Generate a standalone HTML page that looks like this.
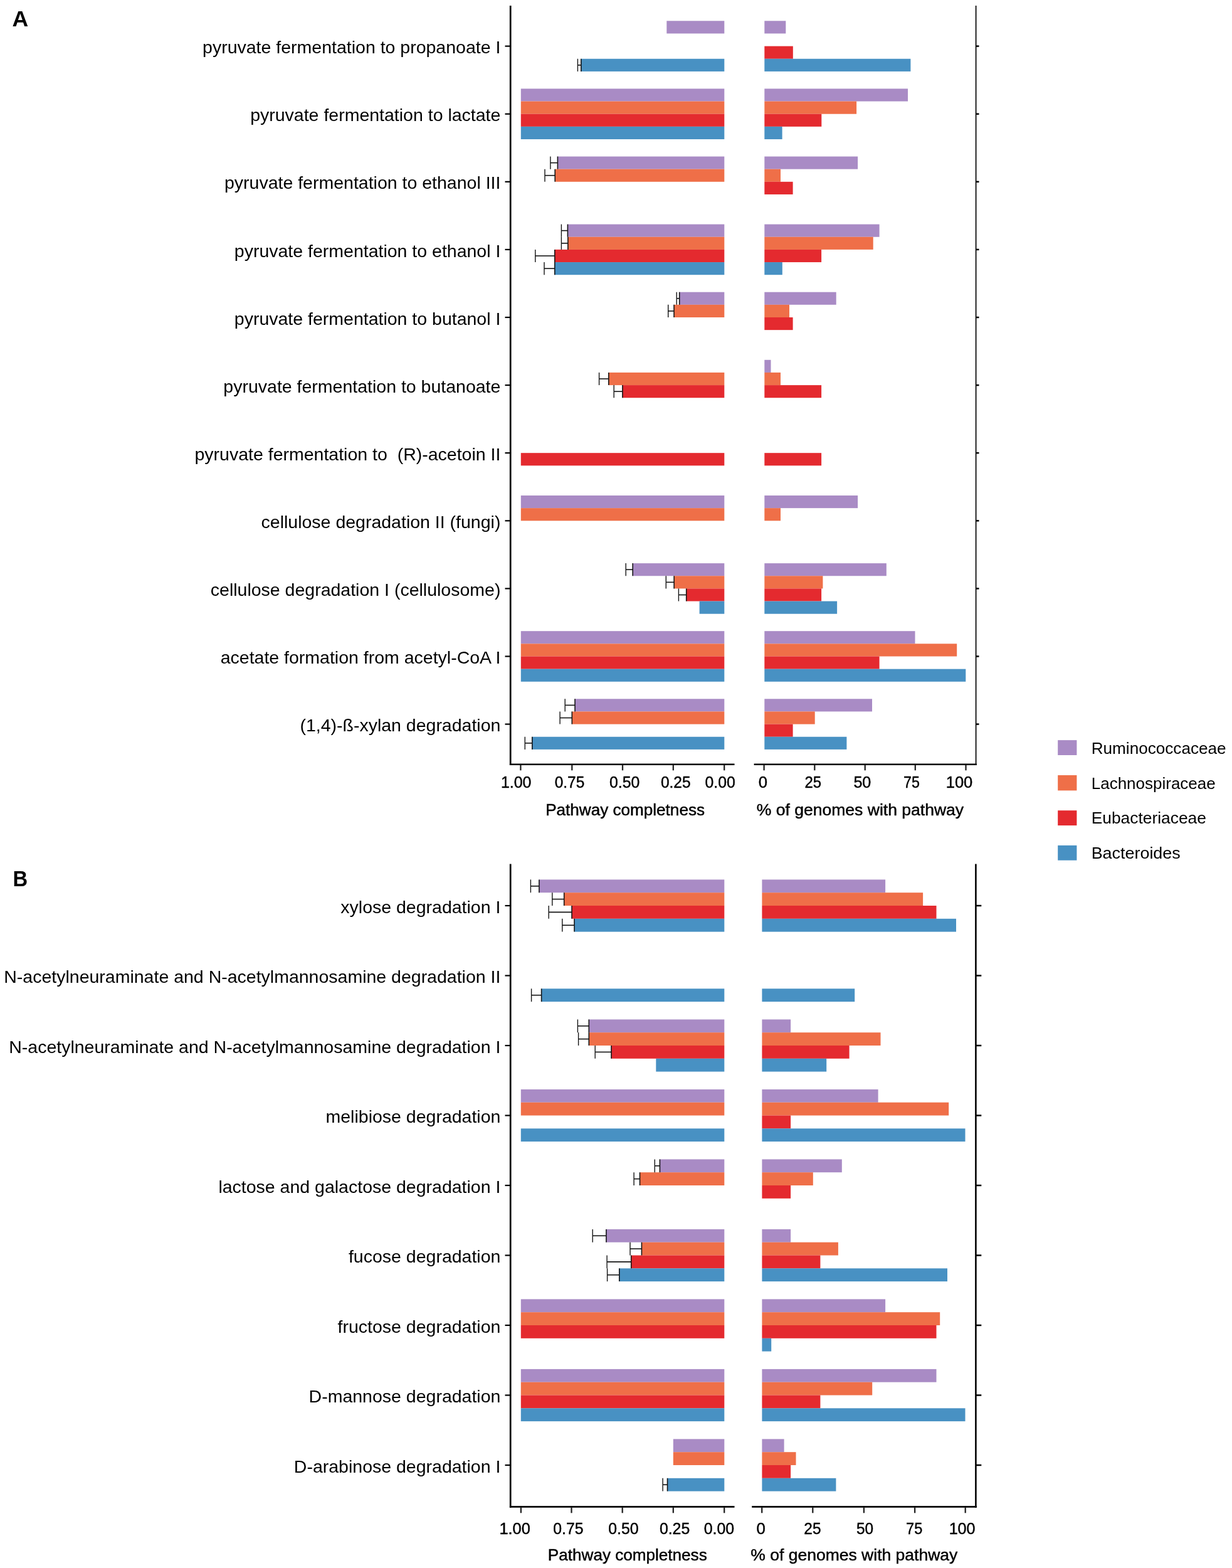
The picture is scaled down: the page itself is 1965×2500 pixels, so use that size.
<!DOCTYPE html>
<html><head><meta charset="utf-8"><title>Pathway completeness figure</title>
<style>html,body{margin:0;padding:0;background:#fff}svg{display:block}text{font-family:'Liberation Sans', Arial, sans-serif;fill:#000}</style>
</head><body>
<svg width="1965" height="2500" viewBox="0 0 1965 2500">
<rect x="0" y="0" width="1965" height="2500" fill="#fff"/>
<rect x="1063.30" y="33.30" width="92.00" height="20.15" fill="#A98BC5"/>
<rect x="1219.30" y="33.30" width="34.00" height="20.15" fill="#A98BC5"/>
<rect x="1219.30" y="73.60" width="45.50" height="20.15" fill="#E42A2F"/>
<rect x="926.80" y="93.75" width="228.50" height="20.15" fill="#4891C3"/>
<rect x="1219.30" y="93.75" width="233.10" height="20.15" fill="#4891C3"/>
<line x1="921.40" y1="103.83" x2="926.80" y2="103.83" stroke="#141414" stroke-width="1.6"/>
<line x1="921.40" y1="93.75" x2="921.40" y2="113.90" stroke="#141414" stroke-width="1.4"/>
<line x1="926.80" y1="93.75" x2="926.80" y2="113.90" stroke="#141414" stroke-width="1.6"/>
<line x1="805.50" y1="73.60" x2="814.00" y2="73.60" stroke="#000" stroke-width="2.2"/>
<line x1="1556.50" y1="73.60" x2="1561.50" y2="73.60" stroke="#000" stroke-width="2.5"/>
<text x="798.40" y="85.20" font-size="28.5" text-anchor="end" font-weight="400">pyruvate fermentation to propanoate I</text>
<rect x="830.80" y="141.40" width="324.50" height="20.15" fill="#A98BC5"/>
<rect x="1219.30" y="141.40" width="228.70" height="20.15" fill="#A98BC5"/>
<rect x="830.80" y="161.55" width="324.50" height="20.15" fill="#EF6F48"/>
<rect x="1219.30" y="161.55" width="146.80" height="20.15" fill="#EF6F48"/>
<rect x="830.80" y="181.70" width="324.50" height="20.15" fill="#E42A2F"/>
<rect x="1219.30" y="181.70" width="91.00" height="20.15" fill="#E42A2F"/>
<rect x="830.80" y="201.85" width="324.50" height="20.15" fill="#4891C3"/>
<rect x="1219.30" y="201.85" width="28.30" height="20.15" fill="#4891C3"/>
<line x1="805.50" y1="181.70" x2="814.00" y2="181.70" stroke="#000" stroke-width="2.2"/>
<line x1="1556.50" y1="181.70" x2="1561.50" y2="181.70" stroke="#000" stroke-width="2.5"/>
<text x="798.40" y="193.30" font-size="28.5" text-anchor="end" font-weight="400">pyruvate fermentation to lactate</text>
<rect x="889.40" y="249.50" width="265.90" height="20.15" fill="#A98BC5"/>
<rect x="1219.30" y="249.50" width="148.80" height="20.15" fill="#A98BC5"/>
<rect x="885.20" y="269.65" width="270.10" height="20.15" fill="#EF6F48"/>
<rect x="1219.30" y="269.65" width="25.70" height="20.15" fill="#EF6F48"/>
<rect x="1219.30" y="289.80" width="45.30" height="20.15" fill="#E42A2F"/>
<line x1="877.90" y1="259.57" x2="889.40" y2="259.57" stroke="#141414" stroke-width="1.6"/>
<line x1="877.90" y1="249.50" x2="877.90" y2="269.65" stroke="#141414" stroke-width="1.4"/>
<line x1="889.40" y1="249.50" x2="889.40" y2="269.65" stroke="#141414" stroke-width="1.6"/>
<line x1="869.00" y1="279.72" x2="885.20" y2="279.72" stroke="#141414" stroke-width="1.6"/>
<line x1="869.00" y1="269.65" x2="869.00" y2="289.80" stroke="#141414" stroke-width="1.4"/>
<line x1="885.20" y1="269.65" x2="885.20" y2="289.80" stroke="#141414" stroke-width="1.6"/>
<line x1="805.50" y1="289.80" x2="814.00" y2="289.80" stroke="#000" stroke-width="2.2"/>
<line x1="1556.50" y1="289.80" x2="1561.50" y2="289.80" stroke="#000" stroke-width="2.5"/>
<text x="798.40" y="301.40" font-size="28.5" text-anchor="end" font-weight="400">pyruvate fermentation to ethanol III</text>
<rect x="905.40" y="357.60" width="249.90" height="20.15" fill="#A98BC5"/>
<rect x="1219.30" y="357.60" width="183.30" height="20.15" fill="#A98BC5"/>
<rect x="905.80" y="377.75" width="249.50" height="20.15" fill="#EF6F48"/>
<rect x="1219.30" y="377.75" width="173.40" height="20.15" fill="#EF6F48"/>
<rect x="884.80" y="397.90" width="270.50" height="20.15" fill="#E42A2F"/>
<rect x="1219.30" y="397.90" width="90.80" height="20.15" fill="#E42A2F"/>
<rect x="884.80" y="418.05" width="270.50" height="20.15" fill="#4891C3"/>
<rect x="1219.30" y="418.05" width="28.50" height="20.15" fill="#4891C3"/>
<line x1="895.40" y1="367.67" x2="905.40" y2="367.67" stroke="#141414" stroke-width="1.6"/>
<line x1="895.40" y1="357.60" x2="895.40" y2="377.75" stroke="#141414" stroke-width="1.4"/>
<line x1="905.40" y1="357.60" x2="905.40" y2="377.75" stroke="#141414" stroke-width="1.6"/>
<line x1="895.40" y1="387.82" x2="905.80" y2="387.82" stroke="#141414" stroke-width="1.6"/>
<line x1="895.40" y1="377.75" x2="895.40" y2="397.90" stroke="#141414" stroke-width="1.4"/>
<line x1="905.80" y1="377.75" x2="905.80" y2="397.90" stroke="#141414" stroke-width="1.6"/>
<line x1="853.80" y1="407.97" x2="884.80" y2="407.97" stroke="#141414" stroke-width="1.6"/>
<line x1="853.80" y1="397.90" x2="853.80" y2="418.05" stroke="#141414" stroke-width="1.4"/>
<line x1="884.80" y1="397.90" x2="884.80" y2="418.05" stroke="#141414" stroke-width="1.6"/>
<line x1="868.00" y1="428.12" x2="884.80" y2="428.12" stroke="#141414" stroke-width="1.6"/>
<line x1="868.00" y1="418.05" x2="868.00" y2="438.20" stroke="#141414" stroke-width="1.4"/>
<line x1="884.80" y1="418.05" x2="884.80" y2="438.20" stroke="#141414" stroke-width="1.6"/>
<line x1="805.50" y1="397.90" x2="814.00" y2="397.90" stroke="#000" stroke-width="2.2"/>
<line x1="1556.50" y1="397.90" x2="1561.50" y2="397.90" stroke="#000" stroke-width="2.5"/>
<text x="798.40" y="409.50" font-size="28.5" text-anchor="end" font-weight="400">pyruvate fermentation to ethanol I</text>
<rect x="1083.70" y="465.70" width="71.60" height="20.15" fill="#A98BC5"/>
<rect x="1219.30" y="465.70" width="114.40" height="20.15" fill="#A98BC5"/>
<rect x="1075.00" y="485.85" width="80.30" height="20.15" fill="#EF6F48"/>
<rect x="1219.30" y="485.85" width="39.70" height="20.15" fill="#EF6F48"/>
<rect x="1219.30" y="506.00" width="45.30" height="20.15" fill="#E42A2F"/>
<line x1="1079.20" y1="475.77" x2="1083.70" y2="475.77" stroke="#141414" stroke-width="1.6"/>
<line x1="1079.20" y1="465.70" x2="1079.20" y2="485.85" stroke="#141414" stroke-width="1.4"/>
<line x1="1083.70" y1="465.70" x2="1083.70" y2="485.85" stroke="#141414" stroke-width="1.6"/>
<line x1="1065.70" y1="495.92" x2="1075.00" y2="495.92" stroke="#141414" stroke-width="1.6"/>
<line x1="1065.70" y1="485.85" x2="1065.70" y2="506.00" stroke="#141414" stroke-width="1.4"/>
<line x1="1075.00" y1="485.85" x2="1075.00" y2="506.00" stroke="#141414" stroke-width="1.6"/>
<line x1="805.50" y1="506.00" x2="814.00" y2="506.00" stroke="#000" stroke-width="2.2"/>
<line x1="1556.50" y1="506.00" x2="1561.50" y2="506.00" stroke="#000" stroke-width="2.5"/>
<text x="798.40" y="517.60" font-size="28.5" text-anchor="end" font-weight="400">pyruvate fermentation to butanol I</text>
<rect x="1219.30" y="573.80" width="10.20" height="20.15" fill="#A98BC5"/>
<rect x="970.80" y="593.95" width="184.50" height="20.15" fill="#EF6F48"/>
<rect x="1219.30" y="593.95" width="25.70" height="20.15" fill="#EF6F48"/>
<rect x="992.90" y="614.10" width="162.40" height="20.15" fill="#E42A2F"/>
<rect x="1219.30" y="614.10" width="90.80" height="20.15" fill="#E42A2F"/>
<line x1="955.60" y1="604.03" x2="970.80" y2="604.03" stroke="#141414" stroke-width="1.6"/>
<line x1="955.60" y1="593.95" x2="955.60" y2="614.10" stroke="#141414" stroke-width="1.4"/>
<line x1="970.80" y1="593.95" x2="970.80" y2="614.10" stroke="#141414" stroke-width="1.6"/>
<line x1="979.20" y1="624.17" x2="992.90" y2="624.17" stroke="#141414" stroke-width="1.6"/>
<line x1="979.20" y1="614.10" x2="979.20" y2="634.25" stroke="#141414" stroke-width="1.4"/>
<line x1="992.90" y1="614.10" x2="992.90" y2="634.25" stroke="#141414" stroke-width="1.6"/>
<line x1="805.50" y1="614.10" x2="814.00" y2="614.10" stroke="#000" stroke-width="2.2"/>
<line x1="1556.50" y1="614.10" x2="1561.50" y2="614.10" stroke="#000" stroke-width="2.5"/>
<text x="798.40" y="625.70" font-size="28.5" text-anchor="end" font-weight="400">pyruvate fermentation to butanoate</text>
<rect x="830.80" y="722.20" width="324.50" height="20.15" fill="#E42A2F"/>
<rect x="1219.30" y="722.20" width="90.80" height="20.15" fill="#E42A2F"/>
<line x1="805.50" y1="722.20" x2="814.00" y2="722.20" stroke="#000" stroke-width="2.2"/>
<line x1="1556.50" y1="722.20" x2="1561.50" y2="722.20" stroke="#000" stroke-width="2.5"/>
<text x="798.40" y="733.80" font-size="28.5" text-anchor="end" font-weight="400">pyruvate fermentation to  (R)-acetoin II</text>
<rect x="830.80" y="790.00" width="324.50" height="20.15" fill="#A98BC5"/>
<rect x="1219.30" y="790.00" width="148.80" height="20.15" fill="#A98BC5"/>
<rect x="830.80" y="810.15" width="324.50" height="20.15" fill="#EF6F48"/>
<rect x="1219.30" y="810.15" width="25.70" height="20.15" fill="#EF6F48"/>
<line x1="805.50" y1="830.30" x2="814.00" y2="830.30" stroke="#000" stroke-width="2.2"/>
<line x1="1556.50" y1="830.30" x2="1561.50" y2="830.30" stroke="#000" stroke-width="2.5"/>
<text x="798.40" y="841.90" font-size="28.5" text-anchor="end" font-weight="400">cellulose degradation II (fungi)</text>
<rect x="1009.20" y="898.10" width="146.10" height="20.15" fill="#A98BC5"/>
<rect x="1219.30" y="898.10" width="194.50" height="20.15" fill="#A98BC5"/>
<rect x="1075.10" y="918.25" width="80.20" height="20.15" fill="#EF6F48"/>
<rect x="1219.30" y="918.25" width="93.10" height="20.15" fill="#EF6F48"/>
<rect x="1094.70" y="938.40" width="60.60" height="20.15" fill="#E42A2F"/>
<rect x="1219.30" y="938.40" width="90.80" height="20.15" fill="#E42A2F"/>
<rect x="1115.60" y="958.55" width="39.70" height="20.15" fill="#4891C3"/>
<rect x="1219.30" y="958.55" width="115.80" height="20.15" fill="#4891C3"/>
<line x1="998.20" y1="908.17" x2="1009.20" y2="908.17" stroke="#141414" stroke-width="1.6"/>
<line x1="998.20" y1="898.10" x2="998.20" y2="918.25" stroke="#141414" stroke-width="1.4"/>
<line x1="1009.20" y1="898.10" x2="1009.20" y2="918.25" stroke="#141414" stroke-width="1.6"/>
<line x1="1062.30" y1="928.33" x2="1075.10" y2="928.33" stroke="#141414" stroke-width="1.6"/>
<line x1="1062.30" y1="918.25" x2="1062.30" y2="938.40" stroke="#141414" stroke-width="1.4"/>
<line x1="1075.10" y1="918.25" x2="1075.10" y2="938.40" stroke="#141414" stroke-width="1.6"/>
<line x1="1082.40" y1="948.47" x2="1094.70" y2="948.47" stroke="#141414" stroke-width="1.6"/>
<line x1="1082.40" y1="938.40" x2="1082.40" y2="958.55" stroke="#141414" stroke-width="1.4"/>
<line x1="1094.70" y1="938.40" x2="1094.70" y2="958.55" stroke="#141414" stroke-width="1.6"/>
<line x1="805.50" y1="938.40" x2="814.00" y2="938.40" stroke="#000" stroke-width="2.2"/>
<line x1="1556.50" y1="938.40" x2="1561.50" y2="938.40" stroke="#000" stroke-width="2.5"/>
<text x="798.40" y="950.00" font-size="28.5" text-anchor="end" font-weight="400">cellulose degradation I (cellulosome)</text>
<rect x="830.80" y="1006.20" width="324.50" height="20.15" fill="#A98BC5"/>
<rect x="1219.30" y="1006.20" width="240.20" height="20.15" fill="#A98BC5"/>
<rect x="830.80" y="1026.35" width="324.50" height="20.15" fill="#EF6F48"/>
<rect x="1219.30" y="1026.35" width="306.90" height="20.15" fill="#EF6F48"/>
<rect x="830.80" y="1046.50" width="324.50" height="20.15" fill="#E42A2F"/>
<rect x="1219.30" y="1046.50" width="183.30" height="20.15" fill="#E42A2F"/>
<rect x="830.80" y="1066.65" width="324.50" height="20.15" fill="#4891C3"/>
<rect x="1219.30" y="1066.65" width="321.00" height="20.15" fill="#4891C3"/>
<line x1="805.50" y1="1046.50" x2="814.00" y2="1046.50" stroke="#000" stroke-width="2.2"/>
<line x1="1556.50" y1="1046.50" x2="1561.50" y2="1046.50" stroke="#000" stroke-width="2.5"/>
<text x="798.40" y="1058.10" font-size="28.5" text-anchor="end" font-weight="400">acetate formation from acetyl-CoA I</text>
<rect x="917.00" y="1114.30" width="238.30" height="20.15" fill="#A98BC5"/>
<rect x="1219.30" y="1114.30" width="171.70" height="20.15" fill="#A98BC5"/>
<rect x="912.30" y="1134.45" width="243.00" height="20.15" fill="#EF6F48"/>
<rect x="1219.30" y="1134.45" width="80.40" height="20.15" fill="#EF6F48"/>
<rect x="1219.30" y="1154.60" width="45.30" height="20.15" fill="#E42A2F"/>
<rect x="848.80" y="1174.75" width="306.50" height="20.15" fill="#4891C3"/>
<rect x="1219.30" y="1174.75" width="131.10" height="20.15" fill="#4891C3"/>
<line x1="901.20" y1="1124.38" x2="917.00" y2="1124.38" stroke="#141414" stroke-width="1.6"/>
<line x1="901.20" y1="1114.30" x2="901.20" y2="1134.45" stroke="#141414" stroke-width="1.4"/>
<line x1="917.00" y1="1114.30" x2="917.00" y2="1134.45" stroke="#141414" stroke-width="1.6"/>
<line x1="893.10" y1="1144.53" x2="912.30" y2="1144.53" stroke="#141414" stroke-width="1.6"/>
<line x1="893.10" y1="1134.45" x2="893.10" y2="1154.60" stroke="#141414" stroke-width="1.4"/>
<line x1="912.30" y1="1134.45" x2="912.30" y2="1154.60" stroke="#141414" stroke-width="1.6"/>
<line x1="837.30" y1="1184.83" x2="848.80" y2="1184.83" stroke="#141414" stroke-width="1.6"/>
<line x1="837.30" y1="1174.75" x2="837.30" y2="1194.90" stroke="#141414" stroke-width="1.4"/>
<line x1="848.80" y1="1174.75" x2="848.80" y2="1194.90" stroke="#141414" stroke-width="1.6"/>
<line x1="805.50" y1="1154.60" x2="814.00" y2="1154.60" stroke="#000" stroke-width="2.2"/>
<line x1="1556.50" y1="1154.60" x2="1561.50" y2="1154.60" stroke="#000" stroke-width="2.5"/>
<text x="798.40" y="1166.20" font-size="28.5" text-anchor="end" font-weight="400">(1,4)-ß-xylan degradation</text>
<line x1="814.20" y1="9.00" x2="814.20" y2="1220.10" stroke="#000" stroke-width="2.7"/>
<line x1="812.90" y1="1218.80" x2="1171.50" y2="1218.80" stroke="#000" stroke-width="2.6"/>
<line x1="1202.60" y1="1218.80" x2="1557.80" y2="1218.80" stroke="#000" stroke-width="2.6"/>
<rect x="859.90" y="1402.40" width="295.40" height="20.80" fill="#A98BC5"/>
<rect x="1215.40" y="1402.40" width="196.70" height="20.80" fill="#A98BC5"/>
<rect x="899.70" y="1423.20" width="255.60" height="20.80" fill="#EF6F48"/>
<rect x="1215.40" y="1423.20" width="256.70" height="20.80" fill="#EF6F48"/>
<rect x="912.00" y="1444.00" width="243.30" height="20.80" fill="#E42A2F"/>
<rect x="1215.40" y="1444.00" width="278.10" height="20.80" fill="#E42A2F"/>
<rect x="916.00" y="1464.80" width="239.30" height="20.80" fill="#4891C3"/>
<rect x="1215.40" y="1464.80" width="309.60" height="20.80" fill="#4891C3"/>
<line x1="846.40" y1="1412.80" x2="859.90" y2="1412.80" stroke="#141414" stroke-width="1.6"/>
<line x1="846.40" y1="1402.40" x2="846.40" y2="1423.20" stroke="#141414" stroke-width="1.4"/>
<line x1="859.90" y1="1402.40" x2="859.90" y2="1423.20" stroke="#141414" stroke-width="1.6"/>
<line x1="880.80" y1="1433.60" x2="899.70" y2="1433.60" stroke="#141414" stroke-width="1.6"/>
<line x1="880.80" y1="1423.20" x2="880.80" y2="1444.00" stroke="#141414" stroke-width="1.4"/>
<line x1="899.70" y1="1423.20" x2="899.70" y2="1444.00" stroke="#141414" stroke-width="1.6"/>
<line x1="875.20" y1="1454.40" x2="912.00" y2="1454.40" stroke="#141414" stroke-width="1.6"/>
<line x1="875.20" y1="1444.00" x2="875.20" y2="1464.80" stroke="#141414" stroke-width="1.4"/>
<line x1="912.00" y1="1444.00" x2="912.00" y2="1464.80" stroke="#141414" stroke-width="1.6"/>
<line x1="896.80" y1="1475.20" x2="916.00" y2="1475.20" stroke="#141414" stroke-width="1.6"/>
<line x1="896.80" y1="1464.80" x2="896.80" y2="1485.60" stroke="#141414" stroke-width="1.4"/>
<line x1="916.00" y1="1464.80" x2="916.00" y2="1485.60" stroke="#141414" stroke-width="1.6"/>
<line x1="805.50" y1="1444.00" x2="814.00" y2="1444.00" stroke="#000" stroke-width="2.2"/>
<line x1="1556.50" y1="1444.00" x2="1565.30" y2="1444.00" stroke="#000" stroke-width="2.5"/>
<text x="798.40" y="1455.60" font-size="28.5" text-anchor="end" font-weight="400">xylose degradation I</text>
<rect x="863.60" y="1576.30" width="291.70" height="20.80" fill="#4891C3"/>
<rect x="1215.40" y="1576.30" width="147.80" height="20.80" fill="#4891C3"/>
<line x1="847.60" y1="1586.70" x2="863.60" y2="1586.70" stroke="#141414" stroke-width="1.6"/>
<line x1="847.60" y1="1576.30" x2="847.60" y2="1597.10" stroke="#141414" stroke-width="1.4"/>
<line x1="863.60" y1="1576.30" x2="863.60" y2="1597.10" stroke="#141414" stroke-width="1.6"/>
<line x1="805.50" y1="1555.50" x2="814.00" y2="1555.50" stroke="#000" stroke-width="2.2"/>
<line x1="1556.50" y1="1555.50" x2="1565.30" y2="1555.50" stroke="#000" stroke-width="2.5"/>
<text x="798.40" y="1567.10" font-size="28.5" text-anchor="end" font-weight="400">N-acetylneuraminate and N-acetylmannosamine degradation II</text>
<rect x="939.30" y="1625.40" width="216.00" height="20.80" fill="#A98BC5"/>
<rect x="1215.40" y="1625.40" width="45.70" height="20.80" fill="#A98BC5"/>
<rect x="939.30" y="1646.20" width="216.00" height="20.80" fill="#EF6F48"/>
<rect x="1215.40" y="1646.20" width="189.10" height="20.80" fill="#EF6F48"/>
<rect x="975.00" y="1667.00" width="180.30" height="20.80" fill="#E42A2F"/>
<rect x="1215.40" y="1667.00" width="139.20" height="20.80" fill="#E42A2F"/>
<rect x="1046.30" y="1687.80" width="109.00" height="20.80" fill="#4891C3"/>
<rect x="1215.40" y="1687.80" width="102.80" height="20.80" fill="#4891C3"/>
<line x1="921.40" y1="1635.80" x2="939.30" y2="1635.80" stroke="#141414" stroke-width="1.6"/>
<line x1="921.40" y1="1625.40" x2="921.40" y2="1646.20" stroke="#141414" stroke-width="1.4"/>
<line x1="939.30" y1="1625.40" x2="939.30" y2="1646.20" stroke="#141414" stroke-width="1.6"/>
<line x1="922.60" y1="1656.60" x2="939.30" y2="1656.60" stroke="#141414" stroke-width="1.6"/>
<line x1="922.60" y1="1646.20" x2="922.60" y2="1667.00" stroke="#141414" stroke-width="1.4"/>
<line x1="939.30" y1="1646.20" x2="939.30" y2="1667.00" stroke="#141414" stroke-width="1.6"/>
<line x1="949.20" y1="1677.40" x2="975.00" y2="1677.40" stroke="#141414" stroke-width="1.6"/>
<line x1="949.20" y1="1667.00" x2="949.20" y2="1687.80" stroke="#141414" stroke-width="1.4"/>
<line x1="975.00" y1="1667.00" x2="975.00" y2="1687.80" stroke="#141414" stroke-width="1.6"/>
<line x1="805.50" y1="1667.00" x2="814.00" y2="1667.00" stroke="#000" stroke-width="2.2"/>
<line x1="1556.50" y1="1667.00" x2="1565.30" y2="1667.00" stroke="#000" stroke-width="2.5"/>
<text x="798.40" y="1678.60" font-size="28.5" text-anchor="end" font-weight="400">N-acetylneuraminate and N-acetylmannosamine degradation I</text>
<rect x="830.80" y="1736.90" width="324.50" height="20.80" fill="#A98BC5"/>
<rect x="1215.40" y="1736.90" width="185.20" height="20.80" fill="#A98BC5"/>
<rect x="830.80" y="1757.70" width="324.50" height="20.80" fill="#EF6F48"/>
<rect x="1215.40" y="1757.70" width="297.80" height="20.80" fill="#EF6F48"/>
<rect x="1215.40" y="1778.50" width="45.70" height="20.80" fill="#E42A2F"/>
<rect x="830.80" y="1799.30" width="324.50" height="20.80" fill="#4891C3"/>
<rect x="1215.40" y="1799.30" width="324.10" height="20.80" fill="#4891C3"/>
<line x1="805.50" y1="1778.50" x2="814.00" y2="1778.50" stroke="#000" stroke-width="2.2"/>
<line x1="1556.50" y1="1778.50" x2="1565.30" y2="1778.50" stroke="#000" stroke-width="2.5"/>
<text x="798.40" y="1790.10" font-size="28.5" text-anchor="end" font-weight="400">melibiose degradation</text>
<rect x="1052.40" y="1848.40" width="102.90" height="20.80" fill="#A98BC5"/>
<rect x="1215.40" y="1848.40" width="127.40" height="20.80" fill="#A98BC5"/>
<rect x="1020.50" y="1869.20" width="134.80" height="20.80" fill="#EF6F48"/>
<rect x="1215.40" y="1869.20" width="81.40" height="20.80" fill="#EF6F48"/>
<rect x="1215.40" y="1890.00" width="45.70" height="20.80" fill="#E42A2F"/>
<line x1="1044.30" y1="1858.80" x2="1052.40" y2="1858.80" stroke="#141414" stroke-width="1.6"/>
<line x1="1044.30" y1="1848.40" x2="1044.30" y2="1869.20" stroke="#141414" stroke-width="1.4"/>
<line x1="1052.40" y1="1848.40" x2="1052.40" y2="1869.20" stroke="#141414" stroke-width="1.6"/>
<line x1="1011.10" y1="1879.60" x2="1020.50" y2="1879.60" stroke="#141414" stroke-width="1.6"/>
<line x1="1011.10" y1="1869.20" x2="1011.10" y2="1890.00" stroke="#141414" stroke-width="1.4"/>
<line x1="1020.50" y1="1869.20" x2="1020.50" y2="1890.00" stroke="#141414" stroke-width="1.6"/>
<line x1="805.50" y1="1890.00" x2="814.00" y2="1890.00" stroke="#000" stroke-width="2.2"/>
<line x1="1556.50" y1="1890.00" x2="1565.30" y2="1890.00" stroke="#000" stroke-width="2.5"/>
<text x="798.40" y="1901.60" font-size="28.5" text-anchor="end" font-weight="400">lactose and galactose degradation I</text>
<rect x="966.90" y="1959.90" width="188.40" height="20.80" fill="#A98BC5"/>
<rect x="1215.40" y="1959.90" width="45.70" height="20.80" fill="#A98BC5"/>
<rect x="1023.40" y="1980.70" width="131.90" height="20.80" fill="#EF6F48"/>
<rect x="1215.40" y="1980.70" width="121.50" height="20.80" fill="#EF6F48"/>
<rect x="1006.70" y="2001.50" width="148.60" height="20.80" fill="#E42A2F"/>
<rect x="1215.40" y="2001.50" width="93.00" height="20.80" fill="#E42A2F"/>
<rect x="987.80" y="2022.30" width="167.50" height="20.80" fill="#4891C3"/>
<rect x="1215.40" y="2022.30" width="295.60" height="20.80" fill="#4891C3"/>
<line x1="945.20" y1="1970.30" x2="966.90" y2="1970.30" stroke="#141414" stroke-width="1.6"/>
<line x1="945.20" y1="1959.90" x2="945.20" y2="1980.70" stroke="#141414" stroke-width="1.4"/>
<line x1="966.90" y1="1959.90" x2="966.90" y2="1980.70" stroke="#141414" stroke-width="1.6"/>
<line x1="1005.00" y1="1991.10" x2="1023.40" y2="1991.10" stroke="#141414" stroke-width="1.6"/>
<line x1="1005.00" y1="1980.70" x2="1005.00" y2="2001.50" stroke="#141414" stroke-width="1.4"/>
<line x1="1023.40" y1="1980.70" x2="1023.40" y2="2001.50" stroke="#141414" stroke-width="1.6"/>
<line x1="968.10" y1="2011.90" x2="1006.70" y2="2011.90" stroke="#141414" stroke-width="1.6"/>
<line x1="968.10" y1="2001.50" x2="968.10" y2="2022.30" stroke="#141414" stroke-width="1.4"/>
<line x1="1006.70" y1="2001.50" x2="1006.70" y2="2022.30" stroke="#141414" stroke-width="1.6"/>
<line x1="968.60" y1="2032.70" x2="987.80" y2="2032.70" stroke="#141414" stroke-width="1.6"/>
<line x1="968.60" y1="2022.30" x2="968.60" y2="2043.10" stroke="#141414" stroke-width="1.4"/>
<line x1="987.80" y1="2022.30" x2="987.80" y2="2043.10" stroke="#141414" stroke-width="1.6"/>
<line x1="805.50" y1="2001.50" x2="814.00" y2="2001.50" stroke="#000" stroke-width="2.2"/>
<line x1="1556.50" y1="2001.50" x2="1565.30" y2="2001.50" stroke="#000" stroke-width="2.5"/>
<text x="798.40" y="2013.10" font-size="28.5" text-anchor="end" font-weight="400">fucose degradation</text>
<rect x="830.80" y="2071.40" width="324.50" height="20.80" fill="#A98BC5"/>
<rect x="1215.40" y="2071.40" width="196.70" height="20.80" fill="#A98BC5"/>
<rect x="830.80" y="2092.20" width="324.50" height="20.80" fill="#EF6F48"/>
<rect x="1215.40" y="2092.20" width="283.80" height="20.80" fill="#EF6F48"/>
<rect x="830.80" y="2113.00" width="324.50" height="20.80" fill="#E42A2F"/>
<rect x="1215.40" y="2113.00" width="278.10" height="20.80" fill="#E42A2F"/>
<rect x="1215.40" y="2133.80" width="14.80" height="20.80" fill="#4891C3"/>
<line x1="805.50" y1="2113.00" x2="814.00" y2="2113.00" stroke="#000" stroke-width="2.2"/>
<line x1="1556.50" y1="2113.00" x2="1565.30" y2="2113.00" stroke="#000" stroke-width="2.5"/>
<text x="798.40" y="2124.60" font-size="28.5" text-anchor="end" font-weight="400">fructose degradation</text>
<rect x="830.80" y="2182.90" width="324.50" height="20.80" fill="#A98BC5"/>
<rect x="1215.40" y="2182.90" width="278.10" height="20.80" fill="#A98BC5"/>
<rect x="830.80" y="2203.70" width="324.50" height="20.80" fill="#EF6F48"/>
<rect x="1215.40" y="2203.70" width="175.80" height="20.80" fill="#EF6F48"/>
<rect x="830.80" y="2224.50" width="324.50" height="20.80" fill="#E42A2F"/>
<rect x="1215.40" y="2224.50" width="93.00" height="20.80" fill="#E42A2F"/>
<rect x="830.80" y="2245.30" width="324.50" height="20.80" fill="#4891C3"/>
<rect x="1215.40" y="2245.30" width="324.10" height="20.80" fill="#4891C3"/>
<line x1="805.50" y1="2224.50" x2="814.00" y2="2224.50" stroke="#000" stroke-width="2.2"/>
<line x1="1556.50" y1="2224.50" x2="1565.30" y2="2224.50" stroke="#000" stroke-width="2.5"/>
<text x="798.40" y="2236.10" font-size="28.5" text-anchor="end" font-weight="400">D-mannose degradation</text>
<rect x="1073.80" y="2294.40" width="81.50" height="20.80" fill="#A98BC5"/>
<rect x="1215.40" y="2294.40" width="35.20" height="20.80" fill="#A98BC5"/>
<rect x="1073.80" y="2315.20" width="81.50" height="20.80" fill="#EF6F48"/>
<rect x="1215.40" y="2315.20" width="54.10" height="20.80" fill="#EF6F48"/>
<rect x="1215.40" y="2336.00" width="45.70" height="20.80" fill="#E42A2F"/>
<rect x="1064.50" y="2356.80" width="90.80" height="20.80" fill="#4891C3"/>
<rect x="1215.40" y="2356.80" width="118.00" height="20.80" fill="#4891C3"/>
<line x1="1057.10" y1="2367.20" x2="1064.50" y2="2367.20" stroke="#141414" stroke-width="1.6"/>
<line x1="1057.10" y1="2356.80" x2="1057.10" y2="2377.60" stroke="#141414" stroke-width="1.4"/>
<line x1="1064.50" y1="2356.80" x2="1064.50" y2="2377.60" stroke="#141414" stroke-width="1.6"/>
<line x1="805.50" y1="2336.00" x2="814.00" y2="2336.00" stroke="#000" stroke-width="2.2"/>
<line x1="1556.50" y1="2336.00" x2="1565.30" y2="2336.00" stroke="#000" stroke-width="2.5"/>
<text x="798.40" y="2347.60" font-size="28.5" text-anchor="end" font-weight="400">D-arabinose degradation I</text>
<line x1="814.20" y1="1377.40" x2="814.20" y2="2403.70" stroke="#000" stroke-width="2.7"/>
<line x1="812.90" y1="2402.40" x2="1171.50" y2="2402.40" stroke="#000" stroke-width="2.6"/>
<line x1="1199.20" y1="2402.40" x2="1557.80" y2="2402.40" stroke="#000" stroke-width="2.6"/>
<line x1="1556.60" y1="9.00" x2="1556.60" y2="1220.00" stroke="#000" stroke-width="1.7"/>
<line x1="1556.40" y1="1377.40" x2="1556.40" y2="2403.70" stroke="#000" stroke-width="2.6"/>
<line x1="830.40" y1="1219.50" x2="830.40" y2="1228.30" stroke="#222" stroke-width="2.3"/>
<line x1="912.30" y1="1219.50" x2="912.30" y2="1228.30" stroke="#222" stroke-width="2.3"/>
<line x1="993.00" y1="1219.50" x2="993.00" y2="1228.30" stroke="#222" stroke-width="2.3"/>
<line x1="1073.80" y1="1219.50" x2="1073.80" y2="1228.30" stroke="#222" stroke-width="2.3"/>
<line x1="1155.20" y1="1219.50" x2="1155.20" y2="1228.30" stroke="#222" stroke-width="2.3"/>
<line x1="1218.60" y1="1219.50" x2="1218.60" y2="1228.30" stroke="#222" stroke-width="2.3"/>
<line x1="1299.30" y1="1219.50" x2="1299.30" y2="1228.30" stroke="#222" stroke-width="2.3"/>
<line x1="1379.70" y1="1219.50" x2="1379.70" y2="1228.30" stroke="#222" stroke-width="2.3"/>
<line x1="1459.80" y1="1219.50" x2="1459.80" y2="1228.30" stroke="#222" stroke-width="2.3"/>
<line x1="1540.50" y1="1219.50" x2="1540.50" y2="1228.30" stroke="#222" stroke-width="2.3"/>
<line x1="830.90" y1="2403.00" x2="830.90" y2="2412.30" stroke="#222" stroke-width="2.3"/>
<line x1="911.50" y1="2403.00" x2="911.50" y2="2412.30" stroke="#222" stroke-width="2.3"/>
<line x1="992.70" y1="2403.00" x2="992.70" y2="2412.30" stroke="#222" stroke-width="2.3"/>
<line x1="1073.80" y1="2403.00" x2="1073.80" y2="2412.30" stroke="#222" stroke-width="2.3"/>
<line x1="1155.20" y1="2403.00" x2="1155.20" y2="2412.30" stroke="#222" stroke-width="2.3"/>
<line x1="1215.20" y1="2403.00" x2="1215.20" y2="2412.30" stroke="#222" stroke-width="2.3"/>
<line x1="1296.30" y1="2403.00" x2="1296.30" y2="2412.30" stroke="#222" stroke-width="2.3"/>
<line x1="1377.90" y1="2403.00" x2="1377.90" y2="2412.30" stroke="#222" stroke-width="2.3"/>
<line x1="1459.10" y1="2403.00" x2="1459.10" y2="2412.30" stroke="#222" stroke-width="2.3"/>
<line x1="1539.70" y1="2403.00" x2="1539.70" y2="2412.30" stroke="#222" stroke-width="2.3"/>
<text transform="translate(798.94,1255.90) scale(0.9787,1)" font-size="25.5" font-weight="400" stroke="#000" stroke-width="0.45">1.00</text>
<text transform="translate(884.74,1255.90) scale(0.9583,1)" font-size="25.5" font-weight="400" stroke="#000" stroke-width="0.45">0.75</text>
<text transform="translate(972.03,1255.90) scale(0.9729,1)" font-size="25.5" font-weight="400" stroke="#000" stroke-width="0.45">0.50</text>
<text transform="translate(1053.94,1255.90) scale(0.9583,1)" font-size="25.5" font-weight="400" stroke="#000" stroke-width="0.45">0.25</text>
<text transform="translate(1124.53,1255.90) scale(0.9729,1)" font-size="25.5" font-weight="400" stroke="#000" stroke-width="0.45">0.00</text>
<text transform="translate(1209.69,1255.90) scale(1.0077,1)" font-size="25.5" font-weight="400" stroke="#000" stroke-width="0.45">0</text>
<text transform="translate(1283.56,1255.90) scale(0.9370,1)" font-size="25.5" font-weight="400" stroke="#000" stroke-width="0.45">25</text>
<text transform="translate(1361.41,1255.90) scale(0.9852,1)" font-size="25.5" font-weight="400" stroke="#000" stroke-width="0.45">50</text>
<text transform="translate(1440.99,1255.90) scale(0.9111,1)" font-size="25.5" font-weight="400" stroke="#000" stroke-width="0.45">75</text>
<text transform="translate(1508.70,1255.90) scale(1.0025,1)" font-size="25.5" font-weight="400" stroke="#000" stroke-width="0.45">100</text>
<text transform="translate(796.41,2446.30) scale(0.9957,1)" font-size="25.5" font-weight="400" stroke="#000" stroke-width="0.45">1.00</text>
<text transform="translate(882.33,2446.30) scale(0.9729,1)" font-size="25.5" font-weight="400" stroke="#000" stroke-width="0.45">0.75</text>
<text transform="translate(970.33,2446.30) scale(0.9729,1)" font-size="25.5" font-weight="400" stroke="#000" stroke-width="0.45">0.50</text>
<text transform="translate(1051.93,2446.30) scale(0.9729,1)" font-size="25.5" font-weight="400" stroke="#000" stroke-width="0.45">0.25</text>
<text transform="translate(1122.73,2446.30) scale(0.9750,1)" font-size="25.5" font-weight="400" stroke="#000" stroke-width="0.45">0.00</text>
<text transform="translate(1206.49,2446.30) scale(1.0077,1)" font-size="25.5" font-weight="400" stroke="#000" stroke-width="0.45">0</text>
<text transform="translate(1282.34,2446.30) scale(0.9556,1)" font-size="25.5" font-weight="400" stroke="#000" stroke-width="0.45">25</text>
<text transform="translate(1365.94,2446.30) scale(0.9556,1)" font-size="25.5" font-weight="400" stroke="#000" stroke-width="0.45">50</text>
<text transform="translate(1445.08,2446.30) scale(0.9222,1)" font-size="25.5" font-weight="400" stroke="#000" stroke-width="0.45">75</text>
<text transform="translate(1513.63,2446.30) scale(0.9850,1)" font-size="25.5" font-weight="400" stroke="#000" stroke-width="0.45">100</text>
<text transform="translate(870.15,1299.60) scale(1.0237,1)" font-size="25.5" font-weight="400" stroke="#000" stroke-width="0.45">Pathway completness</text>
<text transform="translate(1206.76,1299.60) scale(1.0410,1)" font-size="25.5" font-weight="400" stroke="#000" stroke-width="0.45">% of genomes with pathway</text>
<text transform="translate(873.85,2488.40) scale(1.0237,1)" font-size="25.5" font-weight="400" stroke="#000" stroke-width="0.45">Pathway completness</text>
<text transform="translate(1197.36,2488.40) scale(1.0394,1)" font-size="25.5" font-weight="400" stroke="#000" stroke-width="0.45">% of genomes with pathway</text>
<text transform="translate(1740.71,1201.80) scale(1.0453,1)" font-size="25" font-weight="400">Ruminococcaceae</text>
<text transform="translate(1740.72,1258.10) scale(1.0404,1)" font-size="25" font-weight="400">Lachnospiraceae</text>
<text transform="translate(1740.69,1313.30) scale(1.0550,1)" font-size="25" font-weight="400">Eubacteriaceae</text>
<text transform="translate(1740.65,1369.20) scale(1.0767,1)" font-size="25" font-weight="400">Bacteroides</text>
<text transform="translate(19.38,42.00) scale(1.0217,1)" font-size="34.8" font-weight="700">A</text>
<text transform="translate(20.42,1413.00) scale(0.9409,1)" font-size="34.8" font-weight="700">B</text>
<rect x="1687.20" y="1180.10" width="30.20" height="23.90" fill="#A98BC5"/>
<rect x="1687.20" y="1236.00" width="30.20" height="24.40" fill="#EF6F48"/>
<rect x="1687.20" y="1292.20" width="30.20" height="23.90" fill="#E42A2F"/>
<rect x="1687.20" y="1347.90" width="30.20" height="23.80" fill="#4891C3"/>
</svg>
</body></html>
